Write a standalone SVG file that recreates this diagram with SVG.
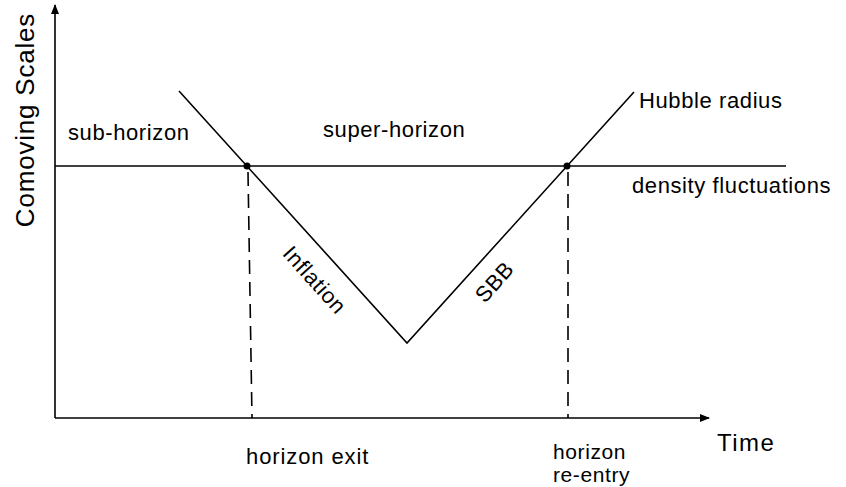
<svg xmlns="http://www.w3.org/2000/svg" width="846" height="487" viewBox="0 0 846 487">
<style>
.ln{stroke:#000;stroke-width:1.6;fill:none}
.ds{stroke:#000;stroke-width:1.6;fill:none;stroke-dasharray:14 8}
text{font-family:"Liberation Sans",Arial,sans-serif;fill:#000;font-size:22px;letter-spacing:0.6px}
</style>
<defs>
<marker id="ar" markerWidth="10" markerHeight="8" refX="9" refY="4" orient="auto" markerUnits="userSpaceOnUse">
<path d="M0,0 L10,4 L0,8 z" fill="#000"/>
</marker>
</defs>
<rect width="846" height="487" fill="#fff"/>
<g id="connectors">
<line class="ln" x1="55" y1="418" x2="55" y2="5" marker-end="url(#ar)"/>
<line class="ln" x1="55" y1="418" x2="709" y2="418" marker-end="url(#ar)"/>
<line class="ln" x1="55" y1="166" x2="786" y2="166"/>
<polyline class="ln" points="179,91 407,343 634,92"/>
<line class="ds" x1="248" y1="172" x2="252" y2="418"/>
<line class="ds" x1="568" y1="172" x2="568" y2="418"/>
</g>
<g id="exit-point"><circle cx="247" cy="166" r="3.5" fill="#000"/></g>
<g id="reentry-point"><circle cx="567" cy="166" r="3.5" fill="#000"/></g>
<g id="labels">
<text x="34" y="120" style="font-size:26px;letter-spacing:0.8px" text-anchor="middle" transform="rotate(-90 34 120)">Comoving Scales</text>
<text x="68" y="140">sub-horizon</text>
<text x="323" y="137">super-horizon</text>
<text x="639" y="108">Hubble radius</text>
<text x="632" y="193">density fluctuations</text>
<text x="246" y="464" style="letter-spacing:0.9px">horizon exit</text>
<text x="553" y="459" style="font-size:21px">horizon</text>
<text x="553" y="482" style="font-size:21px">re-entry</text>
<text x="717" y="451" style="font-size:24px;letter-spacing:1.5px">Time</text>
<text x="309" y="285" text-anchor="middle" transform="rotate(48 309 285)">Inflation</text>
<text x="500" y="287" text-anchor="middle" transform="rotate(-48 500 287)">SBB</text>
</g>
</svg>
